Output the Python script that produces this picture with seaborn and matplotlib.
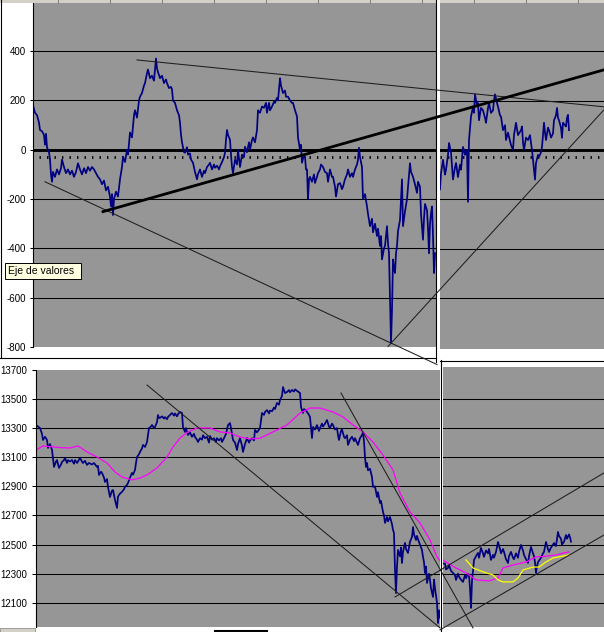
import numpy as np
import pandas as pd
import seaborn as sns
import matplotlib.pyplot as plt
from matplotlib.patches import Rectangle

# ---------------- data ----------------
# upper chart, left part (spread, points)
tl_bar = [
    33, 35, 37, 39, 40, 42, 44, 45, 46, 47,
    49, 50, 51, 52, 53, 55, 57, 59, 61, 62,
    64, 66, 68, 70, 72, 74, 76, 78, 80, 82,
    84, 86, 88, 90, 92, 94, 96, 98, 100, 102,
    104, 106, 108, 110, 111, 112, 113, 114, 116, 118,
    120, 122, 123, 125, 127, 128, 130, 132, 134, 135,
    137, 139, 140, 142, 144, 145, 147, 148, 150, 152,
    154, 156, 157, 158, 160, 162, 164, 166, 167, 169,
    171, 172, 173, 175, 177, 179, 180, 181, 182, 184,
    185, 187, 188, 190, 191, 193, 195, 197, 198, 200,
    202, 204, 205, 207, 209, 210, 212, 214, 215, 217,
    219, 220, 222, 224, 225, 226, 227, 228, 230, 231,
    232, 233, 235, 237, 238, 240, 242, 244, 245, 247,
    249, 250, 252, 253, 255, 257, 258, 260, 262, 264,
    266, 267, 269, 270, 272, 274, 275, 277, 278, 280,
    281, 283, 285, 286, 288, 290, 292, 293, 295, 297,
    298, 300, 301, 302, 304, 305, 306, 307, 308, 309,
    310, 312, 314, 315, 317, 318, 320, 321, 323, 325,
    327, 328, 330, 332, 333, 335, 336, 338, 340, 342,
    343, 345, 347, 348, 350, 352, 353, 355, 357, 358,
    359, 360, 361, 362, 363, 365, 367, 368, 370, 372,
    373, 375, 377, 378, 380, 381, 382, 384, 385, 386,
    387, 388, 389, 390, 391, 392, 393, 394, 395, 396,
    397, 398, 400, 401, 402, 403, 405, 407, 408, 410,
    411, 413, 415, 417, 418, 420, 421, 423, 424, 425,
    427, 428, 429, 430, 431, 432, 433, 434, 435]
tl_val = [
    180, 150, 140, 110, 80, 75, 60, 20, 65, 10,
    -10, -40, -100, -130, -90, -110, -80, -100, -75, -40,
    -70, -95, -80, -100, -85, -110, -90, -55, -80, -100,
    -75, -95, -70, -85, -70, -80, -95, -110, -120, -140,
    -125, -165, -150, -190, -230, -180, -265, -200, -170, -190,
    -120, -70, -28, -50, 0, -20, 70, 50, 140, 160,
    130, 200, 215, 230, 260, 270, 310, 325, 290, 300,
    280, 370, 330, 315, 290, 300, 270, 285, 270, 250,
    255, 245, 200, 190, 160, 140, 110, 60, 30, -10,
    -12, 10, -20, -15, -40, -53, -90, -120, -100, -80,
    -110, -85, -95, -70, -60, -53, -80, -60, -73, -65,
    -80, -67, -50, -30, -12, 40, 80, 60, 40, -20,
    -70, -95, -40, -60, 0, -70, -20, -30, 12, -10,
    30, 0, 40, 50, 30, 80, 160, 150, 175, 170,
    190, 150, 190, 160, 175, 195, 190, 210, 200, 290,
    260, 230, 240, 215, 215, 200, 190, 190, 160, 135,
    50, 0, 20, -53, -20, -28, -80, -80, -200, -120,
    -110, -130, -100, -135, -110, -95, -80, -60, -70, -90,
    -95, -130, -80, -110, -110, -150, -190, -140, -135, -160,
    -150, -120, -100, -80, -110, -95, -110, -80, -60, -40,
    8, -30, -50, -70, -200, -180, -230, -260, -310, -280,
    -335, -300, -350, -320, -390, -350, -445, -400, -390, -350,
    -310, -380, -420, -600, -785, -650, -445, -480, -500, -420,
    -390, -330, -285, -200, -120, -310, -250, -200, -150, -55,
    -90, -110, -140, -175, -130, -150, -260, -365, -280, -220,
    -245, -320, -420, -300, -260, -230, -350, -500, -420]

# upper chart, right part
tr_bar = [
    440, 441, 443, 445, 446, 448, 449, 451, 453, 455,
    456, 458, 460, 461, 463, 465, 467, 468, 469, 471,
    473, 474, 475, 477, 478, 479, 481, 483, 485, 486,
    488, 489, 491, 493, 494, 495, 497, 498, 500, 501,
    503, 505, 506, 508, 509, 511, 513, 514, 516, 518,
    519, 521, 522, 523, 524, 526, 528, 530, 531, 532,
    533, 535, 536, 538, 539, 541, 542, 543, 544, 545,
    546, 548, 549, 551, 553, 554, 556, 557, 558, 559,
    561, 562, 563, 565, 566, 567, 568, 569]
tr_val = [
    -160, -95, -40, -100, -80, -20, 28, -10, -120, -70,
    -53, -110, -60, -80, 12, -20, 0, -210, 40, 135,
    175, 150, 225, 180, 190, 120, 170, 160, 130, 110,
    170, 190, 150, 160, 200, 225, 190, 175, 140, 135,
    80, 100, 40, 70, 53, 20, 0, 60, 110, 60,
    67, 80, 95, 30, 0, 50, 40, 60, 28, 0,
    -40, -120, -53, -20, -28, -10, 12, 60, 110, 70,
    40, 90, 80, 50, 67, 120, 140, 170, 130, 120,
    90, 49, 110, 100, 95, 130, 142, 80]
spread_mean = -28
tl_ticks = [400, 200, 0, -200, -400, -600, -800]

# lower chart, left part (index)
bl_bar = [
    36, 38, 40, 42, 43, 45, 47, 48, 50, 52,
    53, 54, 56, 57, 59, 61, 62, 64, 65, 67,
    68, 70, 72, 74, 75, 77, 80, 82, 83, 85,
    87, 89, 92, 94, 97, 98, 99, 101, 102, 104,
    105, 107, 108, 109, 110, 112, 113, 114, 115, 116,
    117, 118, 120, 122, 124, 125, 127, 128, 130, 132,
    133, 135, 136, 137, 139, 140, 142, 143, 145, 147,
    148, 149, 151, 152, 154, 155, 157, 158, 159, 160,
    162, 164, 165, 167, 168, 170, 172, 174, 175, 177,
    178, 180, 182, 183, 185, 186, 188, 190, 192, 194,
    195, 197, 198, 200, 202, 203, 205, 207, 209, 210,
    212, 214, 216, 217, 219, 221, 222, 224, 226, 227,
    228, 230, 231, 233, 235, 237, 238, 240, 242, 243,
    245, 247, 249, 250, 252, 254, 255, 257, 259, 260,
    261, 262, 264, 265, 267, 269, 270, 272, 274, 275,
    277, 279, 280, 282, 283, 285, 287, 289, 290, 292,
    294, 295, 297, 299, 300, 301, 303, 304, 306, 307,
    309, 310, 311, 312, 313, 315, 317, 319, 320, 322,
    323, 325, 327, 329, 330, 332, 333, 335, 337, 338,
    339, 341, 342, 344, 345, 347, 348, 350, 352, 354,
    355, 357, 358, 360, 362, 363, 364, 365, 366, 367,
    368, 370, 372, 373, 375, 377, 378, 380, 381, 383,
    384, 385, 387, 388, 390, 392, 393, 394, 395, 396,
    397, 398, 400, 401, 402, 403, 405, 406, 408, 410,
    412, 413, 414, 416, 417, 418, 420, 422, 423, 424,
    425, 426, 427, 429, 430, 431, 433, 434, 435, 436,
    437, 438, 439, 440]
bl_val = [
    13321, 13310, 13300, 13260, 13218, 13240, 13218, 13163, 13190, 13150,
    13094, 13033, 13070, 13080, 13026, 13050, 13067, 13080, 13094, 13060,
    13080, 13070, 13080, 13055, 13080, 13060, 13094, 13070, 13060, 13075,
    13047, 13060, 13050, 13060, 13033, 13040, 12978, 13000, 12992, 12960,
    12930, 12950, 12896, 12860, 12827, 12870, 12875, 12840, 12807, 12780,
    12752, 12830, 12850, 12862, 12880, 12896, 12910, 12923, 12960, 12992,
    12980, 13012, 13060, 13101, 13120, 13136, 13160, 13184, 13170, 13204,
    13250, 13300, 13310, 13321, 13300, 13307, 13340, 13389, 13370, 13369,
    13380, 13365, 13375, 13360, 13376, 13390, 13403, 13385, 13400, 13380,
    13395, 13410, 13403, 13307, 13273, 13300, 13252, 13270, 13240, 13260,
    13238, 13220, 13204, 13230, 13220, 13250, 13230, 13240, 13200, 13245,
    13220, 13230, 13205, 13230, 13215, 13230, 13204, 13230, 13260, 13290,
    13320, 13334, 13300, 13218, 13200, 13149, 13190, 13230, 13180, 13136,
    13190, 13231, 13200, 13215, 13230, 13215, 13287, 13270, 13290, 13300,
    13350, 13403, 13390, 13410, 13423, 13400, 13420, 13415, 13440, 13430,
    13472, 13460, 13492, 13520, 13581, 13540, 13547, 13560, 13545, 13561,
    13550, 13565, 13555, 13545, 13540, 13444, 13403, 13430, 13420, 13410,
    13390, 13376, 13300, 13231, 13307, 13290, 13320, 13280, 13300, 13330,
    13310, 13330, 13355, 13310, 13300, 13330, 13320, 13290, 13300, 13250,
    13218, 13280, 13290, 13240, 13230, 13250, 13184, 13220, 13240, 13210,
    13230, 13200, 13184, 13230, 13252, 13270, 13210, 13100, 13033, 13060,
    13010, 13020, 12964, 12896, 12900, 12827, 12860, 12786, 12800, 12724,
    12700, 12649, 12690, 12660, 12690, 12640, 12600, 12580, 12326, 12168,
    12350, 12463, 12420, 12480, 12374, 12450, 12512, 12470, 12443, 12520,
    12553, 12621, 12570, 12532, 12560, 12537, 12500, 12463, 12416, 12380,
    12306, 12350, 12237, 12300, 12258, 12200, 12141, 12260, 12200, 12150,
    12100, 11962, 12050, 12000]
bl_ma_bar = [36, 43, 53, 62, 70, 78, 87, 97, 107, 115,
             122, 132, 140, 147, 157, 167, 173, 180, 188, 197,
             210, 220, 230, 240, 250, 260, 273, 287, 300, 310,
             320, 333, 343, 353, 363, 373, 383, 393, 400, 410,
             420, 430, 437, 440]
bl_ma_val = [13149, 13177, 13170, 13165, 13163, 13177, 13136, 13101, 13060, 12998,
             12964, 12944, 12957, 12978, 13026, 13101, 13170, 13231, 13273, 13300,
             13300, 13273, 13266, 13238, 13225, 13230, 13273, 13321, 13403, 13437,
             13437, 13410, 13376, 13321, 13273, 13204, 13115, 13012, 12854, 12724,
             12649, 12532, 12416, 12390]

# lower chart, right part
br_bar = [
    443, 445, 446, 448, 449, 451, 453, 455, 456, 458,
    459, 461, 463, 465, 466, 468, 469, 470, 471, 472,
    473, 474, 476, 478, 479, 481, 483, 484, 486, 488,
    489, 491, 493, 494, 496, 498, 500, 501, 503, 504,
    506, 508, 509, 511, 513, 514, 516, 518, 519, 521,
    523, 524, 526, 528, 529, 531, 533, 534, 535, 536,
    537, 538, 540, 541, 543, 544, 546, 548, 549, 551,
    553, 554, 556, 558, 559, 561, 562, 564, 566, 567,
    569, 570, 571]
br_val = [
    12370, 12370, 12330, 12340, 12360, 12320, 12306, 12290, 12258, 12300,
    12280, 12260, 12244, 12290, 12270, 12300, 12290, 12200, 12066, 12250,
    12320, 12395, 12420, 12443, 12410, 12477, 12440, 12416, 12460, 12440,
    12470, 12395, 12430, 12410, 12450, 12518, 12470, 12440, 12470, 12450,
    12400, 12374, 12420, 12450, 12410, 12400, 12440, 12410, 12450, 12498,
    12460, 12430, 12400, 12374, 12420, 12484, 12440, 12420, 12380, 12306,
    12350, 12380, 12400, 12410, 12440, 12450, 12518, 12470, 12450, 12480,
    12500, 12511, 12490, 12587, 12560, 12540, 12500, 12520, 12566, 12540,
    12570, 12550, 12520]
br_ma_bar = [443, 446, 456, 466, 476, 489, 498, 503, 513, 526, 536, 546, 556, 564, 569]
br_ma_val = [12395, 12381, 12340, 12306, 12258, 12251, 12271, 12340, 12360, 12381,
             12416, 12420, 12429, 12443, 12450]
br_ma2_bar = [466, 473, 483, 493, 498, 503, 513, 518, 523, 533, 539, 546, 553, 559, 569]
br_ma2_val = [12395, 12340, 12313, 12292, 12258, 12244, 12244, 12271, 12326, 12346,
              12346, 12381, 12408, 12416, 12429]
bl_ticks = [13700, 13500, 13300, 13100, 12900, 12700, 12500, 12300, 12100]

# hand drawn trend lines (chart units)
spread_trends = [([45, 437], [-130, -871]), ([388, 604], [-798, 162]),
                 ([137, 604], [364, 174])]
spread_support = ([103, 604], [-251, 324])
index_trends = [([147, 440], [13595, 11929]), ([341, 473], [13540, 11929]),
                ([395, 604], [12141, 12992]), ([440, 604], [11915, 12566])]

# ---------------- drawing ----------------
W, H = 604, 632
GRAY = '#969696'
NAVY = '#000080'

plt.rcParams['font.family'] = ['Liberation Sans', 'DejaVu Sans']
plt.rcParams['axes.unicode_minus'] = False

fig = plt.figure(figsize=(W / 100, H / 100), dpi=100)
fig.patch.set_facecolor('white')


def panel(left, top, right, bottom):
    ax = fig.add_axes([left / W, 1 - bottom / H, (right - left) / W, (bottom - top) / H])
    ax.set_facecolor(GRAY)
    for s in ax.spines.values():
        s.set_visible(False)
    return ax


def draw(ax, bars, vals, color, lw):
    df = pd.DataFrame({'bar': bars, 'val': vals})
    sns.lineplot(data=df, x='bar', y='val', ax=ax, color=color, linewidth=lw,
                 estimator=None, sort=False, errorbar=None)
    ax.set_xlabel('')
    ax.set_ylabel('')


def grid(ax, values, zero=False):
    for v in values:
        ax.axhline(v, color='black', lw=0.75, zorder=1)
    if zero:
        ax.axhline(0, color='black', lw=2.1, zorder=1.2)


def y_axis(ax, ticks, length, pad):
    ax.spines['left'].set_visible(True)
    ax.spines['left'].set_color('black')
    ax.spines['left'].set_linewidth(0.8)
    ax.set_xticks([])
    ax.set_yticks(ticks)
    ax.tick_params(axis='y', length=length, width=0.75, pad=pad, labelsize=7, colors='black')


DOTS = (0, (0.5, 2.2))

# upper left
ax_tl = panel(33, 3, 604, 347)
draw(ax_tl, tl_bar, tl_val, NAVY, 1.25)
grid(ax_tl, [t for t in tl_ticks if t not in (0, -800)], zero=True)
ax_tl.axhline(spread_mean, xmin=0.01, color='black', lw=2, ls=DOTS, zorder=1.3)
ax_tl.set_xlim(33, 604)
ax_tl.set_ylim(-800, 595)
y_axis(ax_tl, tl_ticks, 2.2, 3)

# upper right
ax_tr = panel(440, 0, 604, 349)
draw(ax_tr, tr_bar, tr_val, NAVY, 1.25)
grid(ax_tr, [t for t in tl_ticks if t not in (0, -800)], zero=True)
ax_tr.axhline(spread_mean, color='black', lw=2, ls=DOTS, zorder=1.3)
ax_tr.set_xlim(440, 604)
ax_tr.set_ylim(-806, 607)
ax_tr.set_xticks([])
ax_tr.set_yticks([])

# lower left
ax_bl = panel(35.5, 369.7, 604, 627)
draw(ax_bl, bl_bar, bl_val, NAVY, 1.25)
draw(ax_bl, bl_ma_bar, bl_ma_val, '#ff00ff', 0.9)
grid(ax_bl, bl_ticks[1:])
ax_bl.set_xlim(35.5, 604)
ax_bl.set_ylim(11935, 13700)
y_axis(ax_bl, bl_ticks, 2.9, 3.2)

# lower right
ax_br = panel(443, 367, 604, 627)
draw(ax_br, br_bar, br_val, NAVY, 1.25)
draw(ax_br, br_ma_bar, br_ma_val, '#ff00ff', 0.9)
draw(ax_br, br_ma2_bar, br_ma2_val, '#ffff00', 0.9)
grid(ax_br, bl_ticks[1:])
ax_br.set_xlim(443, 604)
ax_br.set_ylim(11935, 13718)
ax_br.set_xticks([])
ax_br.set_yticks([])

# overlay: window frames, tooltip and the hand drawn lines
ov = fig.add_axes([0, 0, 1, 1])
ov.set_xlim(0, W)
ov.set_ylim(H, 0)
ov.axis('off')
ov.patch.set_visible(False)

ov.add_patch(Rectangle((0, 0), W, 3, facecolor='#d4d0c8', edgecolor='none'))
for x in np.arange(58, W, 52):
    ov.plot([x, x], [0, 3], color='#808080', lw=0.7)
ov.plot([1.2, 1.2], [0, 358], color='black', lw=0.8)
ov.plot([0, 436], [358, 358], color='black', lw=0.8)
ov.add_patch(Rectangle((436.8, 0), 3.2, 360, facecolor='white', edgecolor='none'))
ov.plot([436.3, 436.3], [0, 362], color='black', lw=0.8)
ov.add_patch(Rectangle((440, 360), 164, 7, facecolor='white', edgecolor='none'))
ov.add_patch(Rectangle((440, 360), 3, 272, facecolor='white', edgecolor='none'))
ov.plot([440.5, 440.5], [360, 632], color='black', lw=0.8)
ov.plot([440, 604], [360.5, 360.5], color='black', lw=0.8)
ov.add_patch(Rectangle((0, 627.5), 35, 5, facecolor='#d4d0c8', edgecolor='#808080', lw=0.5))
ov.plot([215, 267], [630.5, 630.5], color='black', lw=1.5)

for xs, ys in spread_trends:
    ov.plot(xs, ys, transform=ax_tl.transData, color='#1e1e1e', lw=0.75, clip_on=False, zorder=5)
ov.plot(*spread_support, transform=ax_tl.transData, color='black', lw=2.0, clip_on=False, zorder=5)
for xs, ys in index_trends:
    ov.plot(xs, ys, transform=ax_bl.transData, color='#1e1e1e', lw=0.75, clip_on=False, zorder=5)

ov.add_patch(Rectangle((5, 262.5), 76, 16.5, facecolor='#ffffe1', edgecolor='black', lw=0.7, zorder=6))
ov.text(8, 271, 'Eje de valores', fontsize=7.5, va='center', ha='left', zorder=7)

plt.savefig('out.png', dpi=100)
